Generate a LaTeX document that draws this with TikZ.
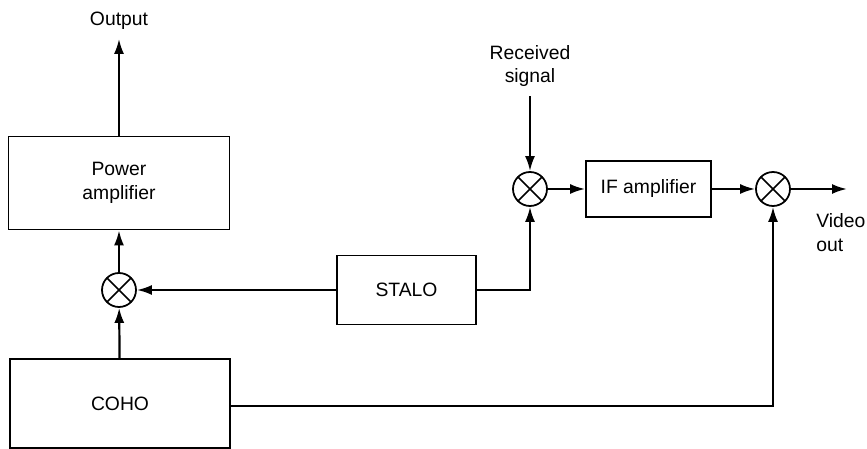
\documentclass[tikz,border=0pt]{standalone}
\usepackage{fontspec}
\setmainfont{Liberation Sans}
\usepackage{tikz}
\usetikzlibrary{arrows.meta,positioning,calc}

\tikzset{
  block/.style={draw, line width=1pt, rectangle, align=center, font=\fontsize{11}{13.5}\selectfont},
  mixer/.style={draw, line width=1pt, circle, minimum size=0.68cm, inner sep=0pt,
    path picture={\draw[line width=0.9pt] (path picture bounding box.north west) -- (path picture bounding box.south east)
      (path picture bounding box.north east) -- (path picture bounding box.south west);}},
  lbl/.style={align=center, font=\fontsize{11}{13.5}\selectfont},
  sig/.style={line width=1.25pt, -{Latex[length=3mm,width=2mm]}}
}

\begin{document}
\begin{tikzpicture}
        \useasboundingbox (0,0) rectangle (17.34,8.98);

        % Transmitter chain
        \node[block, minimum width=4.42cm, minimum height=1.86cm] (pa) at (2.38,5.32) {Power\\amplifier};
        \node[mixer] (mixtx) at (2.38,3.18) {};
        \node[block, minimum width=4.4cm, minimum height=1.78cm] (coho) at (2.4,0.91) {COHO};
        \node[lbl, inner sep=5pt] (output) at (2.38,8.56) {Output};

        % Local oscillator
        \node[block, minimum width=2.78cm, minimum height=1.38cm] (stalo) at (8.13,3.18) {STALO};

        % Receiver chain
        \node[mixer] (mixrx) at (10.6,5.2) {};
        \node[block, minimum width=2.5cm, minimum height=1.12cm] (ifamp) at (12.97,5.2) {IF amplifier};
        \node[mixer] (mixdet) at (15.46,5.2) {};
        \node[lbl, inner sep=5pt] (received) at (10.6,7.66) {Received\\signal};
        \coordinate (vout) at (16.94,5.2);
        \node[lbl, align=left, anchor=north west, inner sep=0pt] (video) at (16.32,4.72) {Video\\out};

        % Connectors
        \draw[sig] (pa.north) -- (output.south);
        \draw[sig] (mixtx) -- (pa);
        \draw[sig] (coho) -- (mixtx);
        \draw[sig] (stalo) -- (mixtx);
        \draw[sig] (stalo.east) -| (mixrx.south);
        \draw[sig] (received) -- (mixrx);
        \draw[sig] (mixrx) -- (ifamp);
        \draw[sig] (ifamp) -- (mixdet);
        \draw[sig] (mixdet) -- (vout);
        \draw[sig] ($(coho.east)+(0,-0.05)$) -| (mixdet.south);
    \end{tikzpicture}
\end{document}
